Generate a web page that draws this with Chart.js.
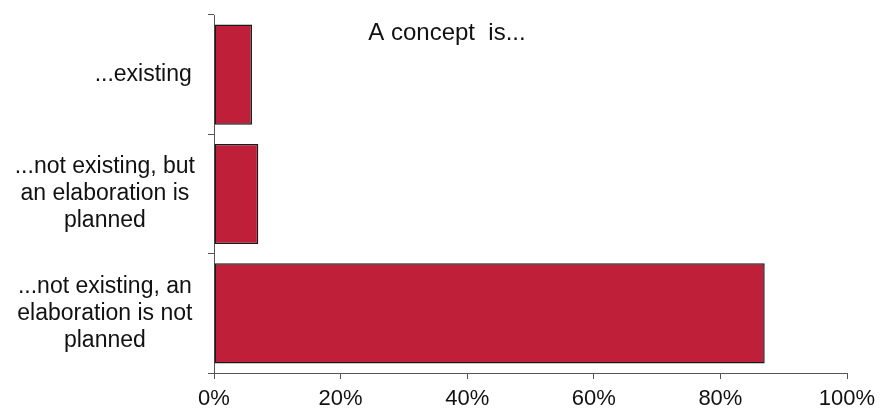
<!DOCTYPE html>
<html>
<head>
<meta charset="utf-8">
<script src="https://cdn.jsdelivr.net/npm/chart.js@4"></script>
<style>
  html, body { margin: 0; padding: 0; background: #fff; }
  #wrap { width: 880px; height: 409px; }
</style>
</head>
<body>
<div id="wrap"><canvas id="diagram"></canvas></div>
<script>
// leading no-break spaces push the one-line label toward the axis, like the original
const kategoriak = [
  "\u00A0\u00A0\u00A0\u00A0\u00A0\u00A0\u00A0\u00A0\u00A0\u00A0\u00A0\u00A0...existing",
  ["...not existing, but", "an elaboration is", "planned"],
  ["...not existing, an", "elaboration is not", "planned"]
];
const ertekek = [6, 7, 87];
const tickCimkek = [0, 20, 40, 60, 80, 100];

const cimPlugin = {
  id: "cim",
  afterDraw(chart) {
    const ctx = chart.ctx;
    ctx.save();
    ctx.font = "24px 'Liberation Sans', Arial, sans-serif";
    ctx.fillStyle = "#111";
    ctx.textAlign = "center";
    ctx.textBaseline = "middle";
    ctx.fillText("A concept  is...", 447, 33);
    ctx.restore();
  }
};

new Chart(document.getElementById("diagram"), {
  type: "bar",
  data: {
    labels: kategoriak,
    datasets: [{
      data: ertekek,
      backgroundColor: "#C01F3A",
      borderColor: "#1a1a1a",
      borderWidth: 1.5,
      borderSkipped: false,
      barPercentage: 0.84,
      categoryPercentage: 1
    }]
  },
  options: {
    indexAxis: "y",
    responsive: true,
    maintainAspectRatio: false,
    animation: false,
    layout: { padding: { top: 15, right: 33, left: 0, bottom: 0 } },
    plugins: {
      legend: { display: false },
      tooltip: { enabled: false }
    },
    scales: {
      x: {
        min: 0,
        max: 100,
        afterFit(scale) {
          scale.height = 36;
          scale.paddingRight = 0;
        },
        afterBuildTicks(scale) { scale.ticks = tickCimkek.map(v => ({ value: v })); },
        ticks: {
          callback: v => v + "%",
          color: "#111",
          font: { family: "'Liberation Sans', Arial, sans-serif", size: 22 },
          padding: 7,
          maxRotation: 0
        },
        grid: { drawOnChartArea: false, drawTicks: true, tickLength: 6, color: "#555" },
        border: { color: "#555", width: 1 }
      },
      y: {
        afterFit(scale) {
          scale.width = 214;
          scale.paddingTop = 0;
          scale.paddingBottom = 0;
        },
        ticks: {
          color: "#111",
          crossAlign: "center",
          padding: 13,
          font: { family: "'Liberation Sans', Arial, sans-serif", size: 23, lineHeight: 1.17 }
        },
        grid: { drawOnChartArea: false, drawTicks: true, tickLength: 6, color: "#555", offset: true },
        border: { color: "#555", width: 1 }
      }
    }
  },
  plugins: [cimPlugin]
});
</script>
</body>
</html>
